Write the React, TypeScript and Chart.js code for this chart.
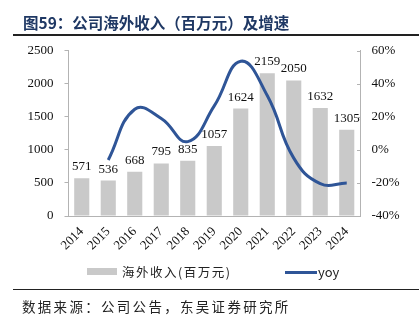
import React, { useEffect, useRef } from "react";
import { Chart, registerables } from "chart.js";

Chart.register(...registerables);

const years = ["2014", "2015", "2016", "2017", "2018", "2019", "2020", "2021", "2022", "2023", "2024"];
const revenue = [571, 536, 668, 795, 835, 1057, 1624, 2159, 2050, 1632, 1305];
const yoy = [null, -6.1, 24.6, 19.0, 5.0, 26.6, 53.6, 32.9, -5.0, -20.4, -20.0];
const leftTicks = [0, 500, 1000, 1500, 2000, 2500];
const rightTicks = [-40, -20, 0, 20, 40, 60];

const title = "图59：公司海外收入（百万元）及增速";
const source = "数据来源：公司公告，东吴证券研究所";
const barLabel = "海外收入(百万元)";
const lineLabel = "yoy";

const SERIF = "'Liberation Serif', 'Times New Roman', serif";
const CJK = "'Noto Sans CJK SC', 'Noto Sans', sans-serif";

const extrasPlugin = {
  id: "extras",
  afterDatasetsDraw(chart: any) {
    const ctx = chart.ctx;
    const meta = chart.getDatasetMeta(1);
    ctx.save();
    ctx.font = `13px ${SERIF}`;
    ctx.fillStyle = "#111";
    ctx.textAlign = "center";
    ctx.textBaseline = "alphabetic";
    meta.data.forEach((bar: any, i: number) => {
      ctx.fillText(String(revenue[i]), bar.x, bar.y - 8);
    });
    const yR = chart.scales.yR;
    const ax = chart.chartArea.right;
    ctx.strokeStyle = "#b3b3b3";
    ctx.lineWidth = 1;
    rightTicks.forEach((t) => {
      const py = Math.round(yR.getPixelForValue(t)) + 0.5;
      ctx.beginPath();
      ctx.moveTo(ax - 3, py);
      ctx.lineTo(ax, py);
      ctx.stroke();
    });
    ctx.restore();
  },
};

export default function App() {
  const ref = useRef<HTMLCanvasElement | null>(null);

  useEffect(() => {
    if (!ref.current) return;
    const chart = new Chart(ref.current, {
      type: "bar",
      data: {
        labels: years,
        datasets: [
          {
            type: "line",
            label: lineLabel,
            data: yoy as any,
            yAxisID: "yR",
            borderColor: "#2F5597",
            backgroundColor: "#2F5597",
            borderWidth: 3,
            pointRadius: 0,
            tension: 0.45,
            order: 0,
          },
          {
            type: "bar",
            label: barLabel,
            data: revenue,
            yAxisID: "y",
            backgroundColor: "#c9c9c9",
            barPercentage: 0.57,
            categoryPercentage: 1,
            order: 1,
          },
        ],
      },
      options: {
        animation: false,
        responsive: false,
        maintainAspectRatio: false,
        layout: { padding: { left: 0, right: 0, top: 50.7, bottom: 0 } },
        plugins: {
          legend: { display: false },
          tooltip: { enabled: false },
          title: { display: false },
        },
        scales: {
          x: {
            grid: { display: false, drawTicks: false },
            border: { display: true, color: "#b3b3b3", width: 1 },
            ticks: {
              minRotation: 45,
              maxRotation: 45,
              padding: 8,
              color: "#111",
              font: { family: SERIF, size: 13 },
            },
            afterFit(scale: any) {
              scale.height = 325 - 216;
            },
          },
          y: {
            position: "left",
            min: 0,
            max: 2500,
            afterBuildTicks(scale: any) {
              scale.ticks = leftTicks.map((v) => ({ value: v }));
            },
            grid: { display: true, drawOnChartArea: false, tickLength: 4, color: "#b3b3b3" },
            border: { display: true, color: "#b3b3b3", width: 1 },
            ticks: {
              padding: 11,
              color: "#111",
              font: { family: SERIF, size: 13 },
              callback: (v: any) => String(v),
            },
            afterFit(scale: any) {
              scale.width = 68.5;
            },
          },
          yR: {
            position: "right",
            min: -40,
            max: 60,
            afterBuildTicks(scale: any) {
              scale.ticks = rightTicks.map((v) => ({ value: v }));
            },
            grid: { display: false, drawOnChartArea: false, drawTicks: false },
            border: { display: true, color: "#b3b3b3", width: 1 },
            ticks: {
              padding: 11.5,
              color: "#111",
              font: { family: SERIF, size: 13 },
              callback: (v: any) => `${v}%`,
            },
            afterFit(scale: any) {
              scale.width = 419 - 360;
            },
          },
        },
      },
      plugins: [extrasPlugin],
    });
    return () => chart.destroy();
  }, []);

  return (
    <div style={{ position: "absolute", left: 0, top: 0, width: 419, height: 325, background: "#fff", overflow: "hidden" }}>
      <canvas ref={ref} width={419} height={325} style={{ position: "absolute", left: 0, top: 0, width: 419, height: 325 }} />
      <div
        style={{
          position: "absolute",
          left: 23,
          top: 11,
          fontFamily: CJK,
          fontWeight: 700,
          fontSize: 15.5,
          lineHeight: "22px",
          color: "#1F3864",
          whiteSpace: "nowrap",
        }}
      >
        {title}
      </div>
      <div style={{ position: "absolute", left: 13, top: 34, width: 406, height: 2, background: "#222" }} />
      <div style={{ position: "absolute", left: 87, top: 268, width: 30, height: 7, background: "#c9c9c9" }} />
      <div
        style={{
          position: "absolute",
          left: 122,
          top: 263,
          fontFamily: CJK,
          fontSize: 12.5,
          lineHeight: "18px",
          letterSpacing: 1.5,
          color: "#222",
          whiteSpace: "nowrap",
        }}
      >
        {barLabel}
      </div>
      <div style={{ position: "absolute", left: 285, top: 270.5, width: 32, height: 3, background: "#2F5597" }} />
      <div
        style={{
          position: "absolute",
          left: 318,
          top: 263,
          fontFamily: CJK,
          fontSize: 13,
          lineHeight: "18px",
          color: "#222",
          whiteSpace: "nowrap",
        }}
      >
        {lineLabel}
      </div>
      <div style={{ position: "absolute", left: 13, top: 288.5, width: 406, height: 1.5, background: "#222" }} />
      <div
        style={{
          position: "absolute",
          left: 22,
          top: 297,
          fontFamily: CJK,
          fontSize: 13.5,
          lineHeight: "18px",
          letterSpacing: 2.3,
          color: "#222",
          whiteSpace: "nowrap",
        }}
      >
        {source}
      </div>
    </div>
  );
}
